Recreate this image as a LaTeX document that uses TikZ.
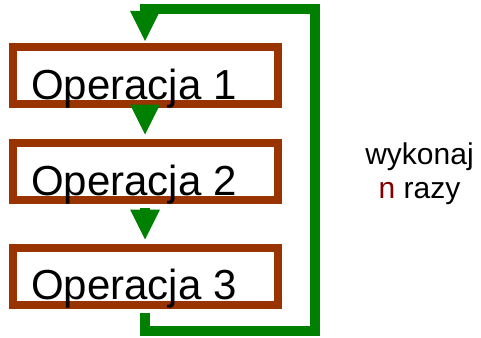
\documentclass[tikz,border=0pt]{standalone}
\usepackage{fontspec}
\setmainfont{Liberation Sans}
\usetikzlibrary{arrows.meta}
\definecolor{boxbrown}{RGB}{153,51,0}
\definecolor{flowgreen}{RGB}{0,128,0}
\definecolor{countred}{RGB}{128,0,0}
\tikzset{
  opbox/.style={draw=boxbrown, line width=8pt, minimum width=265pt,
    minimum height=57pt, inner sep=0pt, fill=white},
  optext/.style={anchor=base west, inner sep=0pt, font=\fontsize{42}{48}\selectfont},
  flow/.style={draw=flowgreen, line width=10pt, miter limit=10,
    -{Triangle[width=30pt,length=30pt,line width=0pt]}, color=flowgreen},
  note/.style={anchor=base, inner sep=0pt, font=\fontsize{30}{34}\selectfont}
}
\begin{document}
\begin{tikzpicture}[x=1pt,y=-1pt]
  \useasboundingbox (0,0) rectangle (481,337);
  % operation boxes
  \node[opbox] (b1) at (145,75.5) {};
  \node[opbox] (b2) at (145,171) {};
  \node[opbox] (b3) at (145,276) {};
  % sequential flow
  \draw[flow] ([yshift=-4pt]b1.south) -- ([yshift=4pt]b2.north);
  \draw[flow] ([yshift=-4pt]b2.south) -- ([yshift=4pt]b3.north);
  % loop back
  \coordinate (rb) at (314.5,331);
  \coordinate (rt) at (314.5,9);
  \draw[flow] ([yshift=-4pt]b3.south) |- (rb) -- (rt) -| ([yshift=2pt]b1.north);
  % labels
  \node[optext] (t1) at (31,99) {Operacja 1};
  \node[optext] (t2) at (31,195.5) {Operacja 2};
  \node[optext] (t3) at (31,299) {Operacja 3};
  \node[note] (w1) at (419.5,164) {wykonaj};
  \node[note] (w2) at (419.5,198) {\textcolor{countred}{n} razy};
\end{tikzpicture}
\end{document}
